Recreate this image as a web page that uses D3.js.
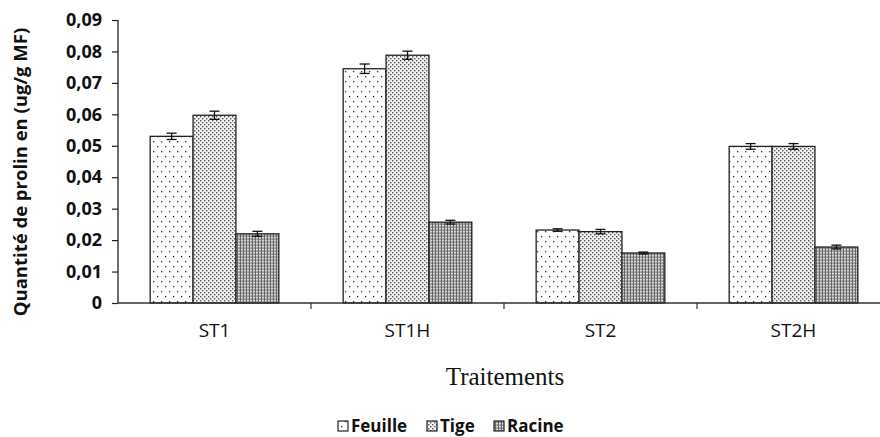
<!DOCTYPE html>
<html>
<head>
<meta charset="utf-8">
<script src="https://cdn.jsdelivr.net/npm/d3@7"></script>
<style>
  body { margin: 0; background: #fff; }
  svg { display: block; }
  .tick text { font-family: "Open Sans", "Liberation Sans", sans-serif; }
</style>
</head>
<body>
<svg width="880" height="437"></svg>
<script>
var categories = ["ST1", "ST1H", "ST2", "ST2H"];
var series = ["Feuille", "Tige", "Racine"];
var feuille = [0.053, 0.0745, 0.0232, 0.0498];
var tige = [0.0597, 0.0788, 0.0227, 0.0498];
var racine = [0.022, 0.0257, 0.0159, 0.0178];
var errFeuille = [0.001, 0.0015, 0.0004, 0.0009];
var errTige = [0.0013, 0.0013, 0.0007, 0.0009];
var errRacine = [0.0008, 0.0006, 0.0003, 0.0006];
var yTicks = [0, 0.01, 0.02, 0.03, 0.04, 0.05, 0.06, 0.07, 0.08, 0.09];

var values = [feuille, tige, racine];
var errs = [errFeuille, errTige, errRacine];

var svg = d3.select("svg"),
    mLeft = 118, mRight = 890, mTop = 20, mBottom = 303;

// fill patterns
var defs = svg.append("defs");
var p1 = defs.append("pattern").attr("id", "pat0").attr("patternUnits", "userSpaceOnUse")
    .attr("width", 8).attr("height", 10);
p1.append("rect").attr("width", 8).attr("height", 10).attr("fill", "#fff");
p1.append("rect").attr("x", 1).attr("y", 1).attr("width", 1.3).attr("height", 1.3).attr("fill", "#333");
p1.append("rect").attr("x", 5).attr("y", 6).attr("width", 1.3).attr("height", 1.3).attr("fill", "#333");

var p2 = defs.append("pattern").attr("id", "pat1").attr("patternUnits", "userSpaceOnUse")
    .attr("width", 4).attr("height", 4);
p2.append("rect").attr("width", 4).attr("height", 4).attr("fill", "#f2f2f2");
p2.append("rect").attr("x", 0).attr("y", 0).attr("width", 1.4).attr("height", 1.4).attr("fill", "#555");
p2.append("rect").attr("x", 2).attr("y", 2).attr("width", 1.4).attr("height", 1.4).attr("fill", "#555");

var p3 = defs.append("pattern").attr("id", "pat2").attr("patternUnits", "userSpaceOnUse")
    .attr("width", 3).attr("height", 3);
p3.append("rect").attr("width", 3).attr("height", 3).attr("fill", "#d8d8d8");
p3.append("rect").attr("x", 0).attr("y", 0).attr("width", 1).attr("height", 3).attr("fill", "#666");
p3.append("rect").attr("x", 1.5).attr("y", 1.5).attr("width", 1.2).attr("height", 1.2).attr("fill", "#444");

var x0 = d3.scaleBand().domain(categories).range([mLeft, mRight]).paddingInner(0).paddingOuter(0);
var x1 = d3.scaleBand().domain(series).range([0, x0.bandwidth()]).paddingOuter(0.75).paddingInner(0);
var y = d3.scaleLinear().domain([0, 0.09]).range([mBottom, mTop]);

var rows = [];
categories.forEach(function(c, i) {
  series.forEach(function(s, j) {
    rows.push({cat: c, ser: s, j: j, v: values[j][i], e: errs[j][i]});
  });
});

var bars = svg.append("g");
bars.selectAll("rect").data(rows).enter().append("rect")
    .attr("x", function(d) { return x0(d.cat) + x1(d.ser); })
    .attr("y", function(d) { return y(d.v); })
    .attr("width", x1.bandwidth())
    .attr("height", function(d) { return mBottom - y(d.v); })
    .attr("fill", function(d) { return "url(#pat" + d.j + ")"; })
    .attr("stroke", "#222").attr("stroke-width", 1.3);

// error bars
var eb = svg.append("g").attr("stroke", "#111").attr("stroke-width", 1.3);
rows.forEach(function(d) {
  var cx = x0(d.cat) + x1(d.ser) + x1.bandwidth() / 2;
  eb.append("line").attr("x1", cx).attr("x2", cx).attr("y1", y(d.v + d.e)).attr("y2", y(d.v - d.e));
  eb.append("line").attr("x1", cx - 5).attr("x2", cx + 5).attr("y1", y(d.v + d.e)).attr("y2", y(d.v + d.e));
  eb.append("line").attr("x1", cx - 5).attr("x2", cx + 5).attr("y1", y(d.v - d.e)).attr("y2", y(d.v - d.e));
});

// y axis
var yAxis = svg.append("g").attr("transform", "translate(" + mLeft + ",0)")
    .call(d3.axisLeft(y).tickValues(yTicks).tickSize(6).tickPadding(10)
      .tickFormat(function(d) { return d === 0 ? "0" : d3.format(".2f")(d).replace(".", ","); }));
yAxis.select(".domain").attr("d", "M0," + mTop + "V" + mBottom).attr("stroke", "#222").attr("stroke-width", 1.3);
yAxis.selectAll(".tick line").attr("stroke", "#222").attr("stroke-width", 1.2);
yAxis.selectAll(".tick text").attr("font-size", 18).attr("font-weight", "bold").attr("fill", "#111");

// x axis
var xAxis = svg.append("g").attr("transform", "translate(0," + mBottom + ")");
xAxis.append("line").attr("x1", mLeft).attr("x2", mRight).attr("stroke", "#333").attr("stroke-width", 1.6);
xAxis.selectAll(".sep").data(categories.slice(1)).enter().append("line")
    .attr("x1", function(d) { return x0(d); }).attr("x2", function(d) { return x0(d); })
    .attr("y1", 0).attr("y2", 6).attr("stroke", "#333").attr("stroke-width", 1.2);
xAxis.selectAll(".lab").data(categories).enter().append("text")
    .attr("x", function(d) { return x0(d) + x0.bandwidth() / 2; })
    .attr("y", 34)
    .attr("text-anchor", "middle")
    .attr("font-family", "Open Sans, Liberation Sans, sans-serif")
    .attr("font-size", 19).attr("fill", "#111")
    .text(function(d) { return d; });

// axis titles
svg.append("text")
    .attr("transform", "translate(27,172) rotate(-90)")
    .attr("text-anchor", "middle")
    .attr("font-family", "Open Sans, Liberation Sans, sans-serif")
    .attr("font-size", 18.5).attr("font-weight", "bold").attr("fill", "#111")
    .text("Quantité de prolin en (ug/g MF)");

svg.append("text")
    .attr("x", 505).attr("y", 385)
    .attr("text-anchor", "middle")
    .attr("font-family", "Liberation Serif, Times New Roman, serif")
    .attr("font-size", 25).attr("fill", "#111")
    .text("Traitements");

// legend
var legX = [338, 427, 494];
var leg = svg.append("g");
series.forEach(function(s, j) {
  leg.append("rect").attr("x", legX[j]).attr("y", 421).attr("width", 10).attr("height", 10)
      .attr("fill", "url(#pat" + j + ")").attr("stroke", "#222").attr("stroke-width", 1.2);
  leg.append("text").attr("x", legX[j] + 13).attr("y", 432)
      .attr("font-family", "Open Sans, Liberation Sans, sans-serif")
      .attr("font-size", 17).attr("font-weight", "bold").attr("fill", "#111")
      .text(s);
});
</script>
</body>
</html>
